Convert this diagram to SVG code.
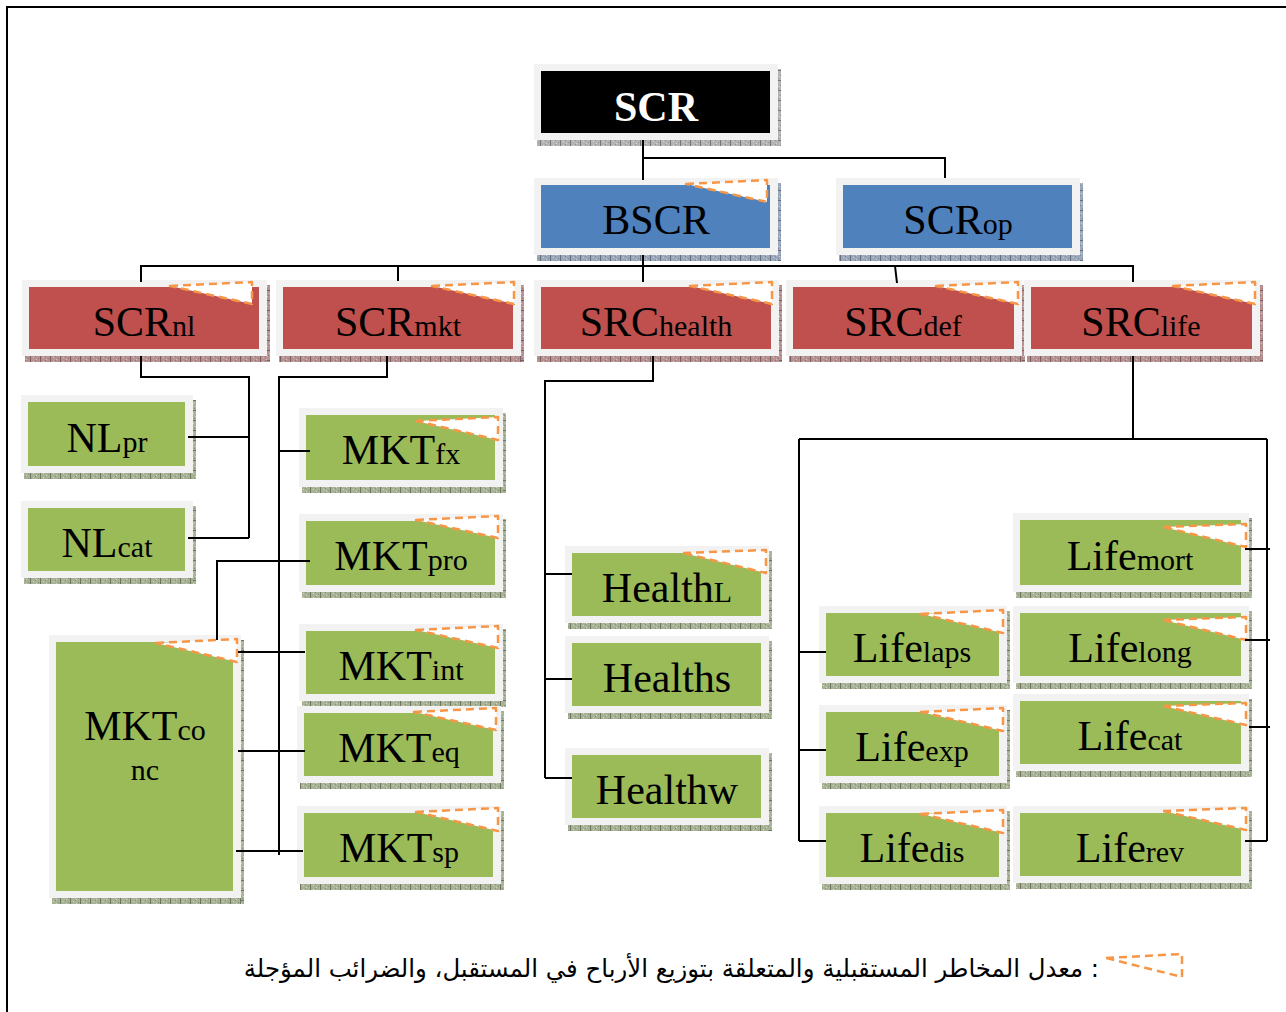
<svg xmlns="http://www.w3.org/2000/svg" width="1286" height="1012" viewBox="0 0 1286 1012">
  <defs>
    <!-- tick texture for the drop-shadow strips -->
    <pattern id="ticksV" width="10" height="4" patternUnits="userSpaceOnUse">
      <rect x="0" y="0" width="1" height="4" fill="rgba(0,0,0,0.35)"/>
      <rect x="3" y="1" width="1" height="1" fill="rgba(255,255,255,0.45)"/>
      <rect x="6" y="3" width="1" height="1" fill="rgba(255,255,255,0.45)"/>
      <rect x="5" y="0" width="1" height="1" fill="rgba(0,0,0,0.2)"/>
      <rect x="8" y="2" width="1" height="1" fill="rgba(0,0,0,0.2)"/>
    </pattern>
    <pattern id="ticksH" width="4" height="10" patternUnits="userSpaceOnUse">
      <rect x="0" y="0" width="4" height="1" fill="rgba(0,0,0,0.35)"/>
      <rect x="1" y="3" width="1" height="1" fill="rgba(255,255,255,0.45)"/>
      <rect x="3" y="6" width="1" height="1" fill="rgba(255,255,255,0.45)"/>
      <rect x="0" y="5" width="1" height="1" fill="rgba(0,0,0,0.2)"/>
      <rect x="2" y="8" width="1" height="1" fill="rgba(0,0,0,0.2)"/>
    </pattern>
  </defs>
  <style>
    .fr{fill:#f2f2f2}
    .k{fill:#000}
    .b{fill:#4f81bd}
    .r{fill:#c0504d}
    .g{fill:#9bbb59}
    .sk{fill:#b4b4b4}
    .sb{fill:#9ba8bb}
    .sr{fill:#b89292}
    .sg{fill:#a8b294}
    .tv{fill:url(#ticksV)}
    .th{fill:url(#ticksH)}
    .fold{fill:#fff;stroke:#f79646;stroke-width:2.5;stroke-dasharray:8 5;stroke-linejoin:round}
    .t{font-family:"Liberation Serif","Times New Roman",serif;font-size:42px;text-anchor:middle;fill:#000}
    .s{font-size:30px}
    .w{fill:#fff;font-weight:bold}
    .ln{fill:none;stroke:#000;stroke-width:2}
    .note{font-family:"DejaVu Sans",sans-serif;font-size:24.4px;fill:#000}
  </style>

  <rect width="1286" height="1012" fill="#fff"/>
  <!-- page frame -->
  <path class="ln" d="M7 1012V7H1286" stroke-width="1.5"/>

  <!-- level 0 -->
  <g id="n-scr">
    <rect class="sk" x="537" y="140" width="244" height="6"/><rect class="tv" x="537" y="140" width="244" height="6"/>
    <rect class="sk" x="778" y="69" width="3" height="77"/><rect class="th" x="778" y="69" width="3" height="77"/>
    <rect class="fr" x="534" y="64" width="244" height="76"/>
    <rect class="k" x="541" y="71" width="229" height="62"/>
    <text class="t w" x="656" y="121">SCR</text>
  </g>

  <!-- level 1 -->
  <g id="n-bscr">
    <rect class="sb" x="537" y="255" width="244" height="6"/><rect class="tv" x="537" y="255" width="244" height="6"/>
    <rect class="sb" x="778" y="183" width="3" height="78"/><rect class="th" x="778" y="183" width="3" height="78"/>
    <rect class="fr" x="534" y="178" width="244" height="77"/>
    <rect class="b" x="541" y="185" width="229" height="63"/>
    <polygon class="fold" points="686,184 767,180 767,202"/>
    <text class="t" x="656" y="234">BSCR</text>
  </g>
  <g id="n-scrop">
    <rect class="sb" x="839" y="255" width="244" height="6"/><rect class="tv" x="839" y="255" width="244" height="6"/>
    <rect class="sb" x="1080" y="183" width="3" height="78"/><rect class="th" x="1080" y="183" width="3" height="78"/>
    <rect class="fr" x="836" y="178" width="244" height="77"/>
    <rect class="b" x="843" y="185" width="229" height="63"/>
    <text class="t" x="958" y="234">SCR<tspan class="s">op</tspan></text>
  </g>

  <!-- level 2 -->
  <g id="n-scrnl">
    <rect class="sr" x="25" y="356" width="245" height="6"/><rect class="tv" x="25" y="356" width="245" height="6"/>
    <rect class="sr" x="267" y="285" width="3" height="77"/><rect class="th" x="267" y="285" width="3" height="77"/>
    <rect class="fr" x="22" y="280" width="245" height="76"/>
    <rect class="r" x="29" y="287" width="230" height="62"/>
    <polygon class="fold" points="170,286 252,282 252,304"/>
    <text class="t" x="144" y="336">SCR<tspan class="s">nl</tspan></text>
  </g>
  <g id="n-scrmkt">
    <rect class="sr" x="279" y="356" width="245" height="6"/><rect class="tv" x="279" y="356" width="245" height="6"/>
    <rect class="sr" x="521" y="285" width="3" height="77"/><rect class="th" x="521" y="285" width="3" height="77"/>
    <rect class="fr" x="276" y="280" width="245" height="76"/>
    <rect class="r" x="283" y="287" width="230" height="62"/>
    <polygon class="fold" points="432,286 514,282 514,304"/>
    <text class="t" x="398" y="336">SCR<tspan class="s">mkt</tspan></text>
  </g>
  <g id="n-srchealth">
    <rect class="sr" x="537" y="356" width="245" height="6"/><rect class="tv" x="537" y="356" width="245" height="6"/>
    <rect class="sr" x="779" y="285" width="3" height="77"/><rect class="th" x="779" y="285" width="3" height="77"/>
    <rect class="fr" x="534" y="280" width="245" height="76"/>
    <rect class="r" x="541" y="287" width="230" height="62"/>
    <polygon class="fold" points="690,286 772,282 772,304"/>
    <text class="t" x="656" y="336">SRC<tspan class="s">health</tspan></text>
  </g>
  <g id="n-srcdef">
    <rect class="sr" x="789" y="356" width="236" height="6"/><rect class="tv" x="789" y="356" width="236" height="6"/>
    <rect class="sr" x="1022" y="285" width="3" height="77"/><rect class="th" x="1022" y="285" width="3" height="77"/>
    <rect class="fr" x="786" y="280" width="236" height="76"/>
    <rect class="r" x="793" y="287" width="221" height="62"/>
    <polygon class="fold" points="936,286 1018,282 1018,304"/>
    <text class="t" x="903" y="336">SRC<tspan class="s">def</tspan></text>
  </g>
  <g id="n-srclife">
    <rect class="sr" x="1027" y="356" width="236" height="6"/><rect class="tv" x="1027" y="356" width="236" height="6"/>
    <rect class="sr" x="1260" y="285" width="3" height="77"/><rect class="th" x="1260" y="285" width="3" height="77"/>
    <rect class="fr" x="1024" y="280" width="236" height="76"/>
    <rect class="r" x="1031" y="287" width="221" height="62"/>
    <polygon class="fold" points="1173,286 1255,282 1255,304"/>
    <text class="t" x="1141" y="336">SRC<tspan class="s">life</tspan></text>
  </g>

  <!-- non-life modules -->
  <g id="n-nlpr">
    <rect class="sg" x="24" y="473" width="172" height="6"/><rect class="tv" x="24" y="473" width="172" height="6"/>
    <rect class="sg" x="193" y="400" width="3" height="79"/><rect class="th" x="193" y="400" width="3" height="79"/>
    <rect class="fr" x="21" y="395" width="172" height="78"/>
    <rect class="g" x="28" y="402" width="157" height="64"/>
    <text class="t" x="107" y="452">NL<tspan class="s">pr</tspan></text>
  </g>
  <g id="n-nlcat">
    <rect class="sg" x="24" y="578" width="172" height="6"/><rect class="tv" x="24" y="578" width="172" height="6"/>
    <rect class="sg" x="193" y="506" width="3" height="78"/><rect class="th" x="193" y="506" width="3" height="78"/>
    <rect class="fr" x="21" y="501" width="172" height="77"/>
    <rect class="g" x="28" y="508" width="157" height="63"/>
    <text class="t" x="107" y="557">NL<tspan class="s">cat</tspan></text>
  </g>

  <!-- market modules -->
  <g id="n-mktfx">
    <rect class="sg" x="302" y="487" width="204" height="6"/><rect class="tv" x="302" y="487" width="204" height="6"/>
    <rect class="sg" x="503" y="413" width="3" height="80"/><rect class="th" x="503" y="413" width="3" height="80"/>
    <rect class="fr" x="299" y="408" width="204" height="79"/>
    <rect class="g" x="306" y="415" width="189" height="65"/>
    <polygon class="fold" points="416,421 498,417 498,440"/>
    <text class="t" x="401" y="464">MKT<tspan class="s">fx</tspan></text>
  </g>
  <g id="n-mktpro">
    <rect class="sg" x="302" y="592" width="204" height="6"/><rect class="tv" x="302" y="592" width="204" height="6"/>
    <rect class="sg" x="503" y="519" width="3" height="79"/><rect class="th" x="503" y="519" width="3" height="79"/>
    <rect class="fr" x="299" y="514" width="204" height="78"/>
    <rect class="g" x="306" y="521" width="189" height="64"/>
    <polygon class="fold" points="416,520 498,516 498,538"/>
    <text class="t" x="401" y="570">MKT<tspan class="s">pro</tspan></text>
  </g>
  <g id="n-mktconc">
    <rect class="sg" x="52" y="898" width="192" height="6"/><rect class="tv" x="52" y="898" width="192" height="6"/>
    <rect class="sg" x="241" y="640" width="3" height="264"/><rect class="th" x="241" y="640" width="3" height="264"/>
    <rect class="fr" x="49" y="635" width="192" height="263"/>
    <rect class="g" x="56" y="642" width="177" height="249"/>
    <polygon class="fold" points="156,643 237,639 237,662"/>
    <text class="t" x="145" y="740">MKT<tspan class="s">co</tspan></text>
    <text class="t s" x="145" y="780">nc</text>
  </g>
  <g id="n-mktint">
    <rect class="sg" x="302" y="701" width="204" height="6"/><rect class="tv" x="302" y="701" width="204" height="6"/>
    <rect class="sg" x="503" y="629" width="3" height="78"/><rect class="th" x="503" y="629" width="3" height="78"/>
    <rect class="fr" x="299" y="624" width="204" height="77"/>
    <rect class="g" x="306" y="631" width="189" height="63"/>
    <polygon class="fold" points="416,630 498,626 498,648"/>
    <text class="t" x="401" y="680">MKT<tspan class="s">int</tspan></text>
  </g>
  <g id="n-mkteq">
    <rect class="sg" x="300" y="783" width="204" height="6"/><rect class="tv" x="300" y="783" width="204" height="6"/>
    <rect class="sg" x="501" y="711" width="3" height="78"/><rect class="th" x="501" y="711" width="3" height="78"/>
    <rect class="fr" x="297" y="706" width="204" height="77"/>
    <rect class="g" x="304" y="713" width="189" height="63"/>
    <polygon class="fold" points="414,712 496,708 496,730"/>
    <text class="t" x="399" y="762">MKT<tspan class="s">eq</tspan></text>
  </g>
  <g id="n-mktsp">
    <rect class="sg" x="300" y="884" width="204" height="6"/><rect class="tv" x="300" y="884" width="204" height="6"/>
    <rect class="sg" x="501" y="811" width="3" height="79"/><rect class="th" x="501" y="811" width="3" height="79"/>
    <rect class="fr" x="297" y="806" width="204" height="78"/>
    <rect class="g" x="304" y="813" width="189" height="64"/>
    <polygon class="fold" points="416,812 498,808 498,831"/>
    <text class="t" x="399" y="862">MKT<tspan class="s">sp</tspan></text>
  </g>

  <!-- health modules -->
  <g id="n-healthl">
    <rect class="sg" x="568" y="623" width="204" height="6"/><rect class="tv" x="568" y="623" width="204" height="6"/>
    <rect class="sg" x="769" y="551" width="3" height="78"/><rect class="th" x="769" y="551" width="3" height="78"/>
    <rect class="fr" x="565" y="546" width="204" height="77"/>
    <rect class="g" x="572" y="553" width="189" height="63"/>
    <polygon class="fold" points="683,553 766,550 766,573"/>
    <text class="t" x="667" y="602">Health<tspan class="s">L</tspan></text>
  </g>
  <g id="n-healths">
    <rect class="sg" x="568" y="713" width="204" height="6"/><rect class="tv" x="568" y="713" width="204" height="6"/>
    <rect class="sg" x="769" y="641" width="3" height="78"/><rect class="th" x="769" y="641" width="3" height="78"/>
    <rect class="fr" x="565" y="636" width="204" height="77"/>
    <rect class="g" x="572" y="643" width="189" height="63"/>
    <text class="t" x="667" y="692">Healths</text>
  </g>
  <g id="n-healthw">
    <rect class="sg" x="568" y="825" width="204" height="6"/><rect class="tv" x="568" y="825" width="204" height="6"/>
    <rect class="sg" x="769" y="753" width="3" height="78"/><rect class="th" x="769" y="753" width="3" height="78"/>
    <rect class="fr" x="565" y="748" width="204" height="77"/>
    <rect class="g" x="572" y="755" width="189" height="63"/>
    <text class="t" x="667" y="804">Healthw</text>
  </g>

  <!-- life modules -->
  <g id="n-lifemort">
    <rect class="sg" x="1016" y="592" width="236" height="6"/><rect class="tv" x="1016" y="592" width="236" height="6"/>
    <rect class="sg" x="1249" y="518" width="3" height="80"/><rect class="th" x="1249" y="518" width="3" height="80"/>
    <rect class="fr" x="1013" y="513" width="236" height="79"/>
    <rect class="g" x="1020" y="520" width="221" height="65"/>
    <polygon class="fold" points="1163,527 1246,524 1246,547"/>
    <text class="t" x="1130" y="570">Life<tspan class="s">mort</tspan></text>
  </g>
  <g id="n-lifelong">
    <rect class="sg" x="1016" y="683" width="236" height="6"/><rect class="tv" x="1016" y="683" width="236" height="6"/>
    <rect class="sg" x="1249" y="611" width="3" height="78"/><rect class="th" x="1249" y="611" width="3" height="78"/>
    <rect class="fr" x="1013" y="606" width="236" height="77"/>
    <rect class="g" x="1020" y="613" width="221" height="63"/>
    <polygon class="fold" points="1163,620 1246,617 1246,640"/>
    <text class="t" x="1130" y="662">Life<tspan class="s">long</tspan></text>
  </g>
  <g id="n-lifecat">
    <rect class="sg" x="1016" y="771" width="236" height="6"/><rect class="tv" x="1016" y="771" width="236" height="6"/>
    <rect class="sg" x="1249" y="699" width="3" height="78"/><rect class="th" x="1249" y="699" width="3" height="78"/>
    <rect class="fr" x="1013" y="694" width="236" height="77"/>
    <rect class="g" x="1020" y="701" width="221" height="63"/>
    <polygon class="fold" points="1163,706 1246,703 1246,725"/>
    <text class="t" x="1130" y="750">Life<tspan class="s">cat</tspan></text>
  </g>
  <g id="n-liferev">
    <rect class="sg" x="1016" y="883" width="236" height="6"/><rect class="tv" x="1016" y="883" width="236" height="6"/>
    <rect class="sg" x="1249" y="811" width="3" height="78"/><rect class="th" x="1249" y="811" width="3" height="78"/>
    <rect class="fr" x="1013" y="806" width="236" height="77"/>
    <rect class="g" x="1020" y="813" width="221" height="63"/>
    <polygon class="fold" points="1163,811 1246,808 1246,830"/>
    <text class="t" x="1130" y="862">Life<tspan class="s">rev</tspan></text>
  </g>
  <g id="n-lifelaps">
    <rect class="sg" x="822" y="683" width="188" height="6"/><rect class="tv" x="822" y="683" width="188" height="6"/>
    <rect class="sg" x="1007" y="611" width="3" height="78"/><rect class="th" x="1007" y="611" width="3" height="78"/>
    <rect class="fr" x="819" y="606" width="188" height="77"/>
    <rect class="g" x="826" y="613" width="173" height="63"/>
    <polygon class="fold" points="921,614 1003,610 1003,633"/>
    <text class="t" x="912" y="662">Life<tspan class="s">laps</tspan></text>
  </g>
  <g id="n-lifeexp">
    <rect class="sg" x="822" y="783" width="188" height="6"/><rect class="tv" x="822" y="783" width="188" height="6"/>
    <rect class="sg" x="1007" y="710" width="3" height="79"/><rect class="th" x="1007" y="710" width="3" height="79"/>
    <rect class="fr" x="819" y="705" width="188" height="78"/>
    <rect class="g" x="826" y="712" width="173" height="64"/>
    <polygon class="fold" points="921,712 1003,708 1003,731"/>
    <text class="t" x="912" y="761">Life<tspan class="s">exp</tspan></text>
  </g>
  <g id="n-lifedis">
    <rect class="sg" x="822" y="884" width="188" height="6"/><rect class="tv" x="822" y="884" width="188" height="6"/>
    <rect class="sg" x="1007" y="811" width="3" height="79"/><rect class="th" x="1007" y="811" width="3" height="79"/>
    <rect class="fr" x="819" y="806" width="188" height="78"/>
    <rect class="g" x="826" y="813" width="173" height="64"/>
    <polygon class="fold" points="921,814 1003,810 1003,833"/>
    <text class="t" x="912" y="862">Life<tspan class="s">dis</tspan></text>
  </g>

  <!-- tree connectors -->
  <g id="connectors" class="ln">
    <path d="M643 140V180M643 158H945V178"/>
    <path d="M643 255V282M141 282V266H1133V282M398 266V281M895 266L897 283"/>
    <path d="M141 356V377H249V538M188 437H249M188 538H249"/>
    <path d="M387 356V377H278M279 377V855M279 451H310M217 640V561H310M238 652H305M238 751H305M236 851H303"/>
    <path d="M653 356V381H545V778M545 574H572M545 679H572M545 778H572"/>
    <path d="M1133 356V439M799 439H1267M799 439V841M1267 439V841M799 652H826M799 750H826M799 841H826M1245 549H1270M1245 640H1270M1249 727H1270M1245 841H1267"/>
  </g>

  <!-- legend -->
  <g id="legend">
    <polygon class="fold" points="1106,958 1182,954 1182,977" fill="none"/>
    <text class="note" x="1099" y="977" direction="rtl" text-anchor="start">: معدل المخاطر المستقبلية والمتعلقة بتوزيع الأرباح في المستقبل، والضرائب المؤجلة</text>
  </g>
</svg>
